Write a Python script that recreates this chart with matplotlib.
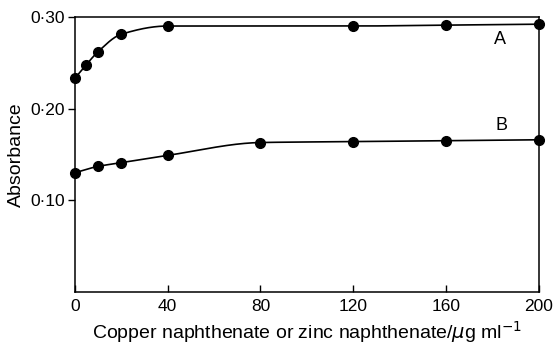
import numpy as np
import matplotlib
matplotlib.use("Agg")
import matplotlib.pyplot as plt

plt.rcParams['font.family'] = ['Liberation Sans', 'DejaVu Sans']

# curve A
conc_a = [0, 5, 10, 20, 40, 120, 160, 200]
abs_a = [0.233, 0.248, 0.262, 0.281, 0.290, 0.290, 0.291, 0.292]
# curve B
conc_b = [0, 10, 20, 40, 80, 120, 160, 200]
abs_b = [0.130, 0.137, 0.141, 0.149, 0.163, 0.164, 0.165, 0.166]

x_ticks = [0, 40, 80, 120, 160, 200]
y_ticks = [0.10, 0.20, 0.30]
y_labels = ['0·10', '0·20', '0·30']


def pchip(x, y, xs):
    # monotone cubic, just for drawing a smooth line through the points
    x = np.asarray(x, float)
    y = np.asarray(y, float)
    h = np.diff(x)
    d = np.diff(y) / h
    m = np.zeros_like(y)
    for k in range(1, len(x) - 1):
        if d[k - 1] * d[k] > 0:
            w1 = 2 * h[k] + h[k - 1]
            w2 = h[k] + 2 * h[k - 1]
            m[k] = (w1 + w2) / (w1 / d[k - 1] + w2 / d[k])
    m[0] = d[0]
    m[-1] = d[-1]
    idx = np.clip(np.searchsorted(x, xs) - 1, 0, len(h) - 1)
    t = (xs - x[idx]) / h[idx]
    h00 = 2 * t**3 - 3 * t**2 + 1
    h10 = t**3 - 2 * t**2 + t
    h01 = -2 * t**3 + 3 * t**2
    h11 = t**3 - t**2
    return h00 * y[idx] + h10 * h[idx] * m[idx] + h01 * y[idx + 1] + h11 * h[idx] * m[idx + 1]


fig = plt.figure(figsize=(5.54, 3.44), dpi=100)
ax = fig.add_axes([0.135, 0.151, 0.838, 0.800])

xs = np.linspace(0, 200, 600)
for cx, cy in [(conc_a, abs_a), (conc_b, abs_b)]:
    ax.plot(xs, pchip(cx, cy, xs), color='black', lw=1.2, clip_on=False)
    ax.plot(cx, cy, 'o', color='black', ms=7, clip_on=False, zorder=5)

ax.text(183, 0.275, 'A', fontsize=13, ha='center', va='center')
ax.text(184, 0.182, 'B', fontsize=13, ha='center', va='center')

ax.set_xlim(0, 200)
ax.set_ylim(0, 0.30)
ax.set_xticks(x_ticks)
ax.set_yticks(y_ticks)
ax.set_yticklabels(y_labels)
ax.tick_params(axis='x', direction='in', length=5, width=1, labelsize=12.5, pad=5)
ax.tick_params(axis='y', direction='out', length=5, width=1, labelsize=12.5, pad=2)
for s in ax.spines.values():
    s.set_linewidth(1.1)

ax.set_xlabel('Copper naphthenate or zinc naphthenate/$\\mu$g ml$^{-1}$', fontsize=14, labelpad=4)
ax.set_ylabel('Absorbance', fontsize=14, labelpad=4)

fig.savefig('out.png', dpi=100)
